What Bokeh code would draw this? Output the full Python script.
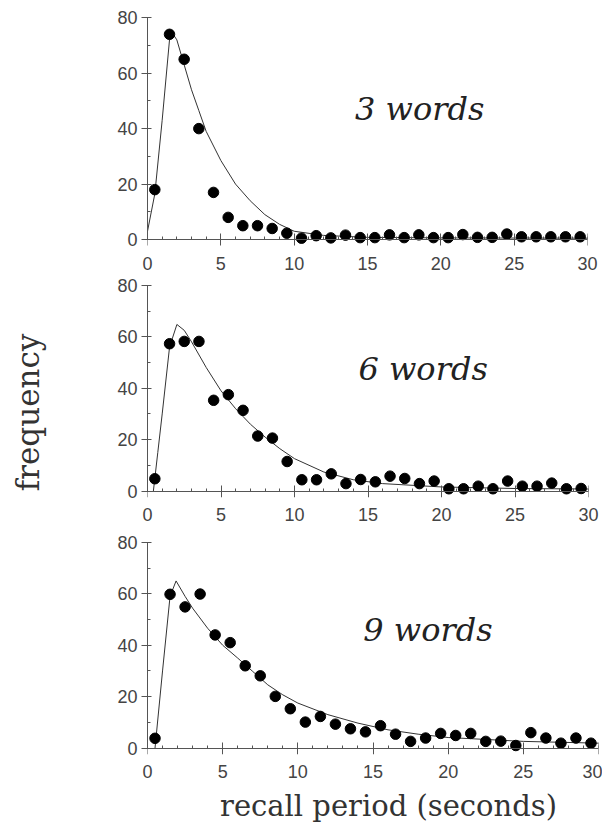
import math
from bokeh.plotting import figure
from bokeh.layouts import column, row
from bokeh.models import Range1d, FixedTicker, LinearAxis
from bokeh.core.properties import value
from bokeh.embed import file_html
from bokeh.resources import INLINE

# ---- data ----
x_points = [0.5 + i for i in range(30)]

freq_3 = [18, 74, 65, 40, 17, 8, 5, 5, 4, 2.3, 0.5, 1.4, 0.6, 1.6, 0.7, 0.7, 1.7, 0.7,
          1.7, 0.7, 0.7, 1.8, 0.8, 0.8, 2, 1, 1, 1, 1, 1]
freq_6 = [4.8, 57.3, 58.2, 58.2, 35.3, 37.5, 31.4, 21.4, 20.6, 11.5, 4.4, 4.4, 6.7, 2.9,
          4.5, 3.6, 5.8, 4.9, 2.9, 3.9, 0.9, 0.9, 1.9, 0.9, 3.9, 1.9, 1.9, 3.1, 0.9, 1]
freq_9 = [3.8, 59.8, 54.9, 59.9, 44, 41, 32, 28.1, 20.1, 15.3, 10.1, 12.3, 9.3, 7.5, 6.3,
          8.7, 5.4, 2.6, 3.9, 5.7, 4.9, 5.7, 2.6, 2.7, 1, 6, 3.9, 1.9, 3.9, 1.9]

fit_x_3 = [0, 0.5, 1, 1.5, 1.75, 2, 2.5, 3, 3.5, 4, 5, 6, 7, 8, 9, 10, 12, 15, 20, 30]
fit_y_3 = [3, 16.5, 43, 72, 74, 72, 63, 54, 46.5, 39, 28.5, 20, 14, 9, 5.5, 3, 1.5, 0.8, 0.6, 0.5]

fit_x_6 = [0.4, 0.7, 1, 1.5, 2, 2.5, 3, 4, 5, 6, 7, 8, 9, 10, 12, 14, 16, 20, 25, 30]
fit_y_6 = [0, 15, 30, 56, 64.8, 62.5, 58, 48, 39, 32, 26, 21, 16.5, 12.6, 7.4, 4.4, 2.9, 1.6, 1, 0.8]

fit_x_9 = [0.5, 1, 1.5, 1.9, 2.5, 3, 4, 5, 6, 7, 8, 9, 10, 12, 14, 16, 18, 20, 25, 30]
fit_y_9 = [0, 30, 59, 65, 59, 54.4, 46.6, 40, 35, 29.8, 24.6, 20.7, 17.5, 13, 9.7, 7.1, 5.4, 4.1, 2.6, 1.9]

panel_titles = ["3  words", "6  words", "9  words"]
x_ticks = [0, 5, 10, 15, 20, 25, 30]
y_ticks = [0, 20, 40, 60, 80]
y_label = "frequency"
x_label = "recall period (seconds)"

AXIS_COLOR = "#555555"
TICK_FONT = "Liberation Sans"
SERIF = "DejaVu Serif"
LABEL_W = 48

# per-panel geometry: (left, frame_w, right, top, frame_h, bottom)
geom = [
    (94, 440, 20, 13, 233, 30),
    (97, 441, 16, 5, 216, 30),
    (99, 451, 4, 11, 216, 30),
]
title_pos = [(14.15, 47.2), (14.35, 47.4), (14.35, 45.9)]

datasets = [(freq_3, fit_x_3, fit_y_3), (freq_6, fit_x_6, fit_y_6), (freq_9, fit_x_9, fit_y_9)]

figs = []
for i, ((pts, fx, fy), (L, W, R, T, H, B)) in enumerate(zip(datasets, geom)):
    p = figure(frame_width=W, frame_height=H, min_border_left=L, min_border_right=R,
               min_border_top=T, min_border_bottom=B,
               x_range=Range1d(0, 30), y_range=Range1d(-2.5, 81.5),
               output_backend="svg", toolbar_location=None)
    p.outline_line_color = None
    p.grid.visible = False
    p.background_fill_color = "white"
    p.border_fill_color = "white"

    # axis line + ticks drawn at y = 0 (labels hidden)
    xa = p.xaxis[0]
    xa.fixed_location = 0
    xa.bounds = (0, 30)
    xa.ticker = FixedTicker(ticks=x_ticks, minor_ticks=list(range(0, 31)))
    xa.major_tick_in = 6
    xa.major_tick_out = 6
    xa.minor_tick_in = 3
    xa.minor_tick_out = 0
    xa.major_label_text_alpha = 0
    xa.major_label_text_font_size = "1px"
    xa.major_label_standoff = 0
    xa.axis_line_color = AXIS_COLOR
    xa.major_tick_line_color = AXIS_COLOR
    xa.minor_tick_line_color = AXIS_COLOR

    # label-only axis at the frame bottom
    xl = LinearAxis(ticker=FixedTicker(ticks=x_ticks), axis_line_color=None,
                    major_tick_line_color=None, minor_tick_line_color=None,
                    major_label_standoff=4, major_label_text_font=TICK_FONT,
                    major_label_text_font_size="18px", major_label_text_color="#444444")
    p.below = [xl, xa]

    ya = p.yaxis[0]
    ya.bounds = (0, 80)
    ya.ticker = FixedTicker(ticks=y_ticks, minor_ticks=list(range(0, 81, 10)))
    ya.major_tick_in = 4
    ya.major_tick_out = 6
    ya.minor_tick_in = 3
    ya.minor_tick_out = 0
    ya.major_label_standoff = 4
    ya.axis_line_color = AXIS_COLOR
    ya.major_tick_line_color = AXIS_COLOR
    ya.minor_tick_line_color = AXIS_COLOR
    ya.major_label_text_font = TICK_FONT
    ya.major_label_text_font_size = "18px"
    ya.major_label_text_color = "#444444"

    p.line(fx, fy, line_color="#333333", line_width=1)
    p.scatter(x_points, pts, size=10.5, fill_color="black", line_color="black")

    tx, ty = title_pos[i]
    p.text(x=[tx], y=[ty], text=[panel_titles[i]], text_font=value(SERIF),
           text_font_style="italic", text_font_size="32px", text_color="#222222",
           text_baseline="alphabetic", text_align="left")
    figs.append(p)

col_h = sum(g[3] + g[4] + g[5] for g in geom)

# left strip holding the shared y label
lf = figure(frame_width=LABEL_W, frame_height=col_h, min_border=0,
            x_range=Range1d(0, LABEL_W), y_range=Range1d(col_h, 0),
            output_backend="svg", toolbar_location=None)
lf.axis.visible = False
lf.grid.visible = False
lf.outline_line_color = None
lf.text(x=[27], y=[412], text=[y_label], angle=math.pi / 2, text_font=value(SERIF),
        text_font_size="31px", text_color="#333333", text_align="center",
        text_baseline="middle")

# bottom strip holding the shared x label
BW = 600
bf = figure(frame_width=BW, frame_height=44, min_border=0,
            x_range=Range1d(0, BW), y_range=Range1d(44, 0),
            output_backend="svg", toolbar_location=None)
bf.axis.visible = False
bf.grid.visible = False
bf.outline_line_color = None
bf.text(x=[388], y=[21], text=[x_label], text_font=value(SERIF),
        text_font_size="29px", text_color="#333333", text_align="center",
        text_baseline="middle")

layout = column(row(lf, column(*figs, spacing=0), spacing=0), bf, spacing=0)
open("out.html", "w").write(file_html(layout, INLINE))
